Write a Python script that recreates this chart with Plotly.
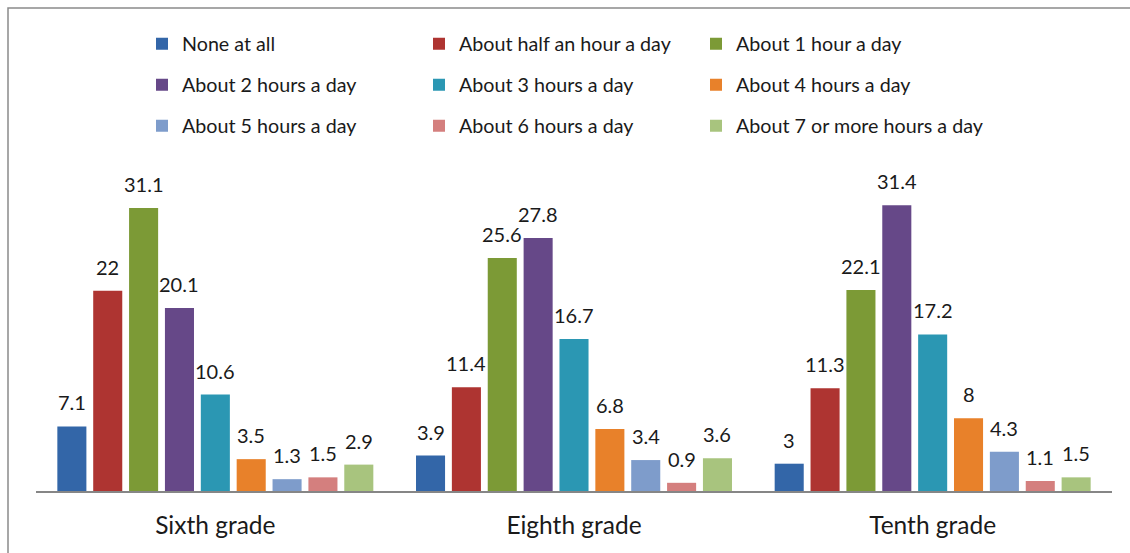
import plotly.graph_objects as go

grades = ["Sixth grade", "Eighth grade", "Tenth grade"]

series_names = [
    "None at all",
    "About half an hour a day",
    "About 1 hour a day",
    "About 2 hours a day",
    "About 3 hours a day",
    "About 4 hours a day",
    "About 5 hours a day",
    "About 6 hours a day",
    "About 7 or more hours a day",
]

none_at_all = [7.1, 3.9, 3]
half_hour = [22, 11.4, 11.3]
one_hour = [31.1, 25.6, 22.1]
two_hours = [20.1, 27.8, 31.4]
three_hours = [10.6, 16.7, 17.2]
four_hours = [3.5, 6.8, 8]
five_hours = [1.3, 3.4, 4.3]
six_hours = [1.5, 0.9, 1.1]
seven_plus = [2.9, 3.6, 1.5]

series_values = [none_at_all, half_hour, one_hour, two_hours, three_hours,
                 four_hours, five_hours, six_hours, seven_plus]

colors = ["#3366A8", "#AE3431", "#7C9A36", "#664888", "#2B97B3",
          "#E8812A", "#7E9CCB", "#D47F7E", "#A8C47E"]

FONT = "Lato, Carlito, sans-serif"
W, H = 1130, 553
ML, MR, MT, MB = 36, 18, 150, 62
PW = W - ML - MR
PH = H - MT - MB
PX_PER_UNIT = 9.1
Y_MAX = PH / PX_PER_UNIT
BARGAP = 0.10
BARGROUPGAP = 0.19


def px_x(px):
    return (px - ML) / PW


def px_y(py):
    return (H - MB - py) / PH


n_series = len(series_names)
group_w = 1 - BARGAP
slot_w = group_w / n_series

# legend grid: 3 columns x 3 rows, one single-entry legend per series
col_x = [142, 419, 696]
row_y = [44, 85, 126]

fig = go.Figure()
annotations = []
legends = {}
for i, (name, vals, col) in enumerate(zip(series_names, series_values, colors)):
    lid = "legend" if i == 0 else f"legend{i + 1}"
    legends[lid] = dict(
        orientation="h",
        x=px_x(col_x[i % 3]),
        xanchor="left",
        y=px_y(row_y[i // 3]),
        yanchor="middle",
        font=dict(family=FONT, size=19.7, color="#1a1a1a"),
        bgcolor="rgba(0,0,0,0)",
    )
    fig.add_trace(go.Bar(
        name=name,
        x=grades,
        y=vals,
        marker=dict(color=col, line=dict(width=0)),
        legend=lid,
    ))
    # value labels sit centred above each bar of the group
    offset = -group_w / 2 + slot_w * (i + 0.5)
    for g, v in enumerate(vals):
        annotations.append(dict(
            x=g + offset, y=v, xref="x", yref="y",
            text=f"{v:g}", showarrow=False,
            yanchor="middle", yshift=24,
            font=dict(family=FONT, size=20, color="#1a1a1a"),
        ))

fig.update_layout(
    width=W,
    height=H,
    margin=dict(l=ML, r=MR, t=MT, b=MB),
    paper_bgcolor="white",
    plot_bgcolor="white",
    barmode="group",
    bargap=BARGAP,
    bargroupgap=BARGROUPGAP,
    showlegend=True,
    xaxis=dict(
        showline=True,
        linecolor="#868686",
        linewidth=2,
        ticks="",
        showgrid=False,
        ticklabelstandoff=12,
        tickfont=dict(family=FONT, size=24.5, color="#1a1a1a"),
    ),
    yaxis=dict(
        range=[0, Y_MAX],
        visible=False,
        showgrid=False,
        zeroline=False,
    ),
    annotations=annotations,
    shapes=[
        dict(
            type="rect",
            xref="paper", yref="paper",
            x0=px_x(8), x1=px_x(W + 20),
            y0=px_y(H + 20), y1=px_y(8),
            line=dict(color="#8a8a8a", width=1.5),
            fillcolor="rgba(0,0,0,0)",
            layer="below",
        )
    ],
    **legends,
)

fig.write_html("out.html")
